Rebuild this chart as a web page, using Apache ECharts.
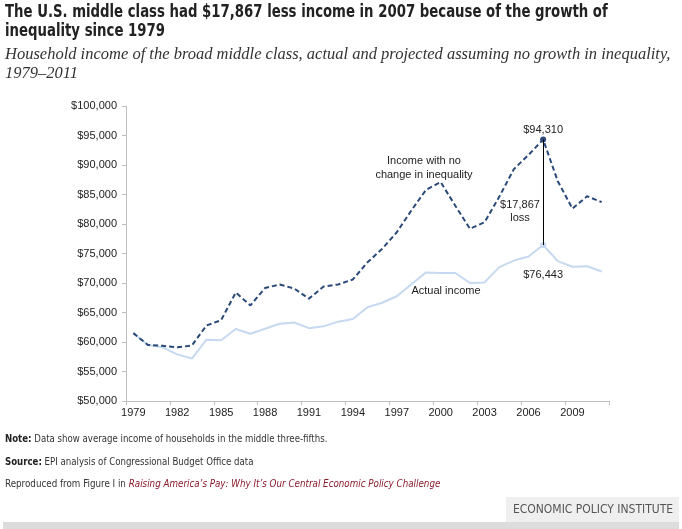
<!DOCTYPE html>
<html>
<head>
<meta charset="utf-8">
<script src="https://cdn.jsdelivr.net/npm/echarts@6/dist/echarts.min.js"></script>
<style>
html,body{margin:0;padding:0;background:#fff;}
#chart{width:682px;height:529px;}
</style>
</head>
<body>
<div id="chart"></div>
<script>
var years = ['1979','1980','1981','1982','1983','1984','1985','1986','1987','1988','1989','1990','1991','1992','1993','1994','1995','1996','1997','1998','1999','2000','2001','2002','2003','2004','2005','2006','2007','2008','2009','2010','2011'];
var noChangeIncome = [61500,59500,59350,59100,59400,62800,63700,68400,66200,69150,69750,69050,67350,69400,69750,70600,73500,75800,78600,82300,85800,87100,83100,79200,80300,84600,89300,91700,94310,87260,82600,84700,83700];
var actualIncome = [61500,59500,59100,57900,57200,60400,60300,62200,61400,62250,63100,63300,62350,62650,63450,63900,65900,66650,67750,69800,71800,71700,71700,70000,70100,72700,73800,74500,76443,73700,72750,72850,71950];
var yTicks = {min:50000, max:100000, interval:5000};
var peakYear = '2007';

var condensed = '"DejaVu Sans Condensed","Liberation Sans",sans-serif';
var arial = '"Liberation Sans",Arial,sans-serif';
var pi = years.indexOf(peakYear);

function money(v){ return '$' + v.toLocaleString('en-US'); }

var noChangeData = noChangeIncome.map(function(v,i){
  if (i === pi) return {value:v, symbol:'circle', symbolSize:6,
    label:{show:true, position:'top', distance:1, formatter:money(v), color:'#222', fontSize:11, fontFamily:arial}};
  return v;
});
var actualData = actualIncome.map(function(v,i){
  if (i === pi) return {value:v, symbol:'circle', symbolSize:6,
    label:{show:true, position:'bottom', distance:21, formatter:money(v), color:'#222', fontSize:11, fontFamily:arial}};
  return v;
});

var chart = echarts.init(document.getElementById('chart'), null, {renderer:'canvas'});
chart.setOption({
  animation:false,
  backgroundColor:'#fff',
  grid:{left:126, right:73, top:106, bottom:128, containLabel:false},
  xAxis:{
    type:'category', data:years, boundaryGap:true,
    axisLine:{lineStyle:{color:'#bfbfbf', width:1}},
    axisTick:{show:true, interval:2, length:4, lineStyle:{color:'#bfbfbf'}},
    axisLabel:{interval:2, color:'#222', fontSize:11, margin:6, fontFamily:arial},
    splitLine:{show:false}
  },
  yAxis:{
    type:'value', min:yTicks.min, max:yTicks.max, interval:yTicks.interval,
    axisLine:{show:true, lineStyle:{color:'#bfbfbf', width:1}},
    axisTick:{show:true, length:4, lineStyle:{color:'#bfbfbf'}},
    axisLabel:{color:'#222', fontSize:11, margin:9, formatter:function(v){return money(v);}, fontFamily:arial},
    splitLine:{show:false}
  },
  series:[
    {
      name:'Actual income', type:'line', data:actualData,
      symbol:'none', showSymbol:true,
      lineStyle:{color:'#c6d9f0', width:2},
      itemStyle:{color:'#c6d9f0'},
      z:2
    },
    {
      name:'Income with no change in inequality', type:'line', data:noChangeData,
      symbol:'none', showSymbol:true,
      lineStyle:{color:'#2a4a7a', width:2, type:[5,3]},
      itemStyle:{color:'#2a4a7a'},
      z:3,
      markLine:{
        silent:true, symbol:['none','none'],
        lineStyle:{color:'#000', width:1, type:'solid'},
        label:{show:false},
        data:[[{coord:[peakYear, noChangeIncome[pi]]},{coord:[peakYear, actualIncome[pi]]}]]
      }
    }
  ],
  graphic:[
    {type:'text', x:5, y:3, scaleX:0.868, style:{text:'The U.S. middle class had $17,867 less income in 2007 because of the growth of\ninequality since 1979', font:'bold 17px ' + condensed, fill:'#222', lineHeight:19}},
    {type:'text', x:5, y:45, style:{text:'Household income of the broad middle class, actual and projected assuming no growth in inequality,\n1979\u20132011', font:'italic 16.5px "Liberation Serif","DejaVu Serif",serif', fill:'#333', lineHeight:19}},
    {type:'text', x:424, y:168, style:{text:'Income with no\nchange in inequality', font:'11px ' + arial, fill:'#222', align:'center', verticalAlign:'middle', lineHeight:14}},
    {type:'text', x:446, y:291, style:{text:'Actual income', font:'11px ' + arial, fill:'#222', align:'center', verticalAlign:'middle'}},
    {type:'text', x:520, y:211, style:{text:'$17,867\nloss', font:'11px ' + arial, fill:'#222', align:'center', verticalAlign:'middle', lineHeight:13}},
    {type:'text', x:5, y:434, scaleX:0.87, style:{text:'{b|Note:} Data show average income of households in the middle three-fifths.', rich:{b:{fontWeight:'bold', fontSize:11, fontFamily:condensed, fill:'#222'}}, font:'11px ' + condensed, fill:'#333'}},
    {type:'text', x:5, y:457, scaleX:0.87, style:{text:'{b|Source:} EPI analysis of Congressional Budget Office data', rich:{b:{fontWeight:'bold', fontSize:11, fontFamily:condensed, fill:'#222'}}, font:'11px ' + condensed, fill:'#333'}},
    {type:'text', x:5, y:479, scaleX:0.885, style:{text:'Reproduced from Figure I in {r|Raising America\u2019s Pay: Why It\u2019s Our Central Economic Policy Challenge}', rich:{r:{fontStyle:'italic', fontSize:11, fontFamily:condensed, fill:'#8b1a2b'}}, font:'11px ' + condensed, fill:'#333'}},
    {type:'rect', shape:{x:506, y:497, width:173, height:25}, style:{fill:'#efefef'}},
    {type:'rect', shape:{x:3, y:522, width:676, height:7}, style:{fill:'#dcdcdc'}},
    {type:'text', x:593, y:510, style:{text:'ECONOMIC POLICY INSTITUTE', font:'12px ' + condensed, fill:'#555', align:'center', verticalAlign:'middle'}}
  ]
});
</script>
</body>
</html>
